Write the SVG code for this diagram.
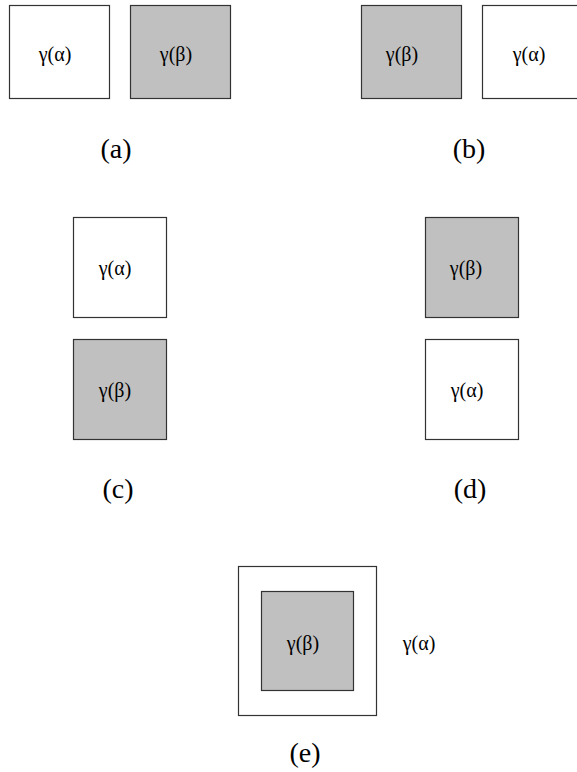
<svg xmlns="http://www.w3.org/2000/svg" width="577" height="772" viewBox="0 0 577 772">
  <style>
    .box { stroke: #333; stroke-width: 1.2; }
    .a { fill: #ffffff; }
    .b { fill: #c0c0c0; }
  </style>
  <rect width="577" height="772" fill="#ffffff"/>

  <g font-family="Liberation Serif" text-anchor="middle" fill="#000">
    <g font-size="20">
      <!-- (a) alpha left of beta -->
      <g id="a-alpha"><rect class="box a" x="9.5" y="5.5" width="100" height="93"/><text x="55" y="61">γ(α)</text></g>
      <g id="a-beta"><rect class="box b" x="130.5" y="5.5" width="100" height="93"/><text x="176" y="61">γ(β)</text></g>

      <!-- (b) beta left of alpha -->
      <g id="b-beta"><rect class="box b" x="361.5" y="5.5" width="100" height="93"/><text x="402" y="61">γ(β)</text></g>
      <g id="b-alpha"><rect class="box a" x="482.5" y="5.5" width="100" height="93"/><text x="529" y="61">γ(α)</text></g>

      <!-- (c) alpha above beta -->
      <g id="c-alpha"><rect class="box a" x="73.5" y="217.5" width="93" height="100"/><text x="115" y="275">γ(α)</text></g>
      <g id="c-beta"><rect class="box b" x="73.5" y="339.5" width="93" height="100"/><text x="115" y="397">γ(β)</text></g>

      <!-- (d) beta above alpha -->
      <g id="d-beta"><rect class="box b" x="425.5" y="217.5" width="93" height="100"/><text x="466" y="275">γ(β)</text></g>
      <g id="d-alpha"><rect class="box a" x="425.5" y="339.5" width="93" height="100"/><text x="467" y="397">γ(α)</text></g>

      <!-- (e) beta enclosed by alpha -->
      <g id="e-outer"><rect class="box a" x="238.5" y="566.5" width="138" height="149"/></g>
      <g id="e-beta"><rect class="box b" x="261.5" y="591.5" width="92" height="99"/><text x="303" y="650">γ(β)</text></g>
      <g id="e-alpha"><text x="419" y="650">γ(α)</text></g>
    </g>

    <!-- captions -->
    <g font-size="28">
      <text x="116" y="158">(a)</text>
      <text x="469" y="158">(b)</text>
      <text x="118" y="498">(c)</text>
      <text x="470" y="498">(d)</text>
      <text x="305" y="762">(e)</text>
    </g>
  </g>
</svg>
